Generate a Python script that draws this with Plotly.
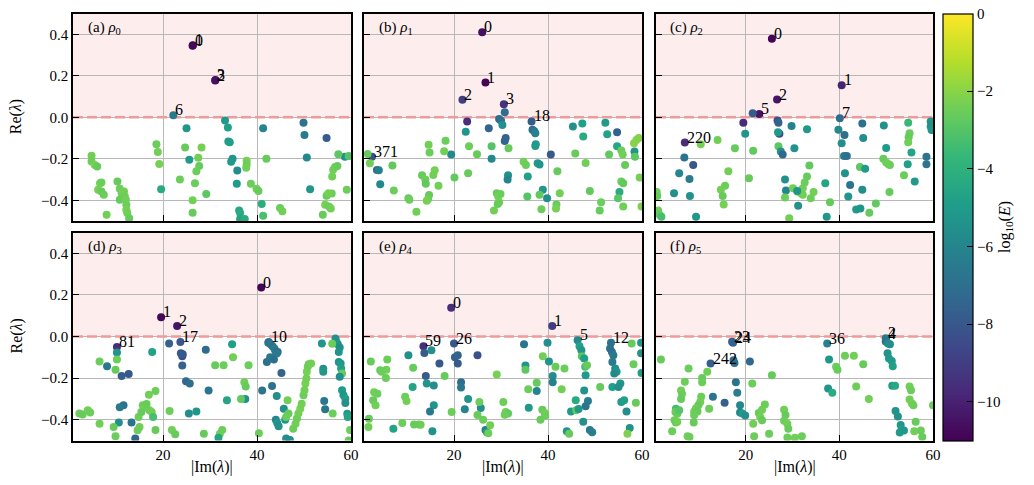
import plotly.graph_objects as go

# ---------------- data ----------------
# panel (a) rho_0 : first len(A_labels) points are the labelled ones
A_im = [26.3, 26.35, 31.1, 31.15, 22.2,
        33.2, 33.8, 25.0, 33.9, 34.2, 41.3, 49.9, 50.1, 54.8, 50.6, 51.3, 58.7, 59.5, 57.3,
        34.8, 34.5, 35.8, 35.7, 36.2, 36.4, 36.4, 37.4, 25.6, 41.0, 41.3, 19.6,
        4.8, 4.8, 5.5, 6.0, 6.6, 6.9, 6.2, 6.9, 7.4, 8.0, 10.3, 10.8, 11.2, 11.7, 11.9, 10.8,
        12.1, 12.2, 12.2, 12.4, 12.8, 18.6, 18.9, 19.2, 24.7, 23.6, 27.5, 27.7, 27.1, 28.2,
        26.8, 26.3, 26.3, 29.2, 38.7, 39.9, 40.3, 37.8, 37.8, 37.7, 42.0, 44.9, 45.4, 54.0,
        54.5, 55.3, 55.7, 54.8, 55.9, 55.2, 56.2, 56.6, 57.1, 56.0, 59.1]
A_re = [0.345, 0.347, 0.177, 0.179, 0.010,
        -0.016, -0.050, -0.053, -0.117, -0.120, -0.053, -0.026, -0.085, -0.100, -0.194, -0.347, -0.190, -0.187, -0.178,
        -0.200, -0.215, -0.257, -0.320, -0.450, -0.462, -0.490, -0.490, -0.205, -0.418, -0.475, -0.347,
        -0.186, -0.213, -0.230, -0.237, -0.318, -0.315, -0.350, -0.358, -0.373, -0.470, -0.310, -0.345, -0.366, -0.358, -0.383, -0.398,
        -0.398, -0.422, -0.446, -0.462, -0.487, -0.130, -0.167, -0.225, -0.146, -0.300, -0.195, -0.235, -0.260, -0.146,
        -0.318, -0.400, -0.460, -0.370, -0.320, -0.345, -0.355, -0.210, -0.228, -0.243, -0.200, -0.437, -0.453, -0.470,
        -0.422, -0.430, -0.440, -0.378, -0.368, -0.366, -0.253, -0.240, -0.235, -0.285, -0.350]
A_logE = [-10.9, -10.8, -10.6, -10.5, -6.5,
          -5.0, -4.8, -5.2, -5.0, -4.9, -6.0, -6.8, -6.5, -7.8, -5.8, -5.2, -5.5, -3.0, -2.8,
          -5.3, -5.0, -5.6, -5.0, -4.5, -4.3, -4.6, -4.2, -5.0, -4.2, -3.2, -4.3,
          -2.4, -2.5, -2.3, -2.6, -2.4, -2.5, -2.3, -2.6, -2.5, -2.4, -2.6, -2.5, -2.3, -2.4, -2.5, -2.6,
          -2.4, -2.5, -2.3, -2.4, -2.6, -2.5, -2.4, -2.3, -2.6, -2.5, -2.4, -2.6, -2.5, -2.3,
          -2.5, -2.4, -2.6, -2.8, -2.5, -2.4, -2.6, -2.3, -2.5, -2.4, -2.6, -2.5, -2.4, -2.6,
          -2.3, -2.5, -2.4, -2.6, -2.5, -2.3, -2.4, -2.5, -2.6, -2.4, -2.5]
A_labels = ["0", "1", "2", "3", "6"]

# panel (b) rho_1
B_im = [26.0, 26.7, 21.8, 30.6, 36.5, 2.55,
        30.8, 22.8, 22.5, 27.4, 29.6, 30.0, 30.3, 31.0, 30.8, 36.7, 37.1, 37.3, 37.4, 37.3,
        28.0, 31.6, 28.0, 40.6, 37.8, 38.2, 31.5, 31.4, 35.7, 38.9, 39.8, 45.3, 47.3, 47.5,
        52.2, 52.6, 54.7, 54.7, 45.8, 48.0, 53.0, 55.6, 55.9, 56.4, 58.3, 58.8, 59.3, 58.4,
        58.5, 59.5, 55.6, 56.0, 55.2, 54.9, 56.0, 59.9, 51.3, 51.0, 48.9, 42.0, 42.5, 41.8,
        41.7, 38.6, 38.2, 35.6, 34.8, 35.3, 29.1, 29.4, 29.9, 29.6, 29.3, 28.5, 24.9, 23.2,
        20.1, 23.0, 19.4, 17.9, 18.2, 14.6, 14.8, 15.9, 15.6, 13.2, 13.9, 14.0, 16.7, 14.7,
        14.5, 14.2, 12.0, 10.3, 10.5, 7.2, 6.9, 4.3, 3.6, 4.0, 2.1, 1.6]
B_re = [0.410, 0.167, 0.084, 0.063, -0.020, -0.190,
        0.024, -0.020, -0.070, -0.053, -0.008, -0.016, -0.037, -0.100, -0.115, -0.060, -0.068, -0.077, -0.130, -0.138,
        -0.140, -0.150, -0.200, -0.180, -0.222, -0.228, -0.280, -0.300, -0.285, -0.350, -0.390, -0.045, -0.030, -0.093,
        -0.026, -0.082, -0.072, -0.140, -0.175, -0.220, -0.180, -0.160, -0.180, -0.230, -0.125, -0.110, -0.100, -0.165,
        -0.190, -0.290, -0.310, -0.318, -0.360, -0.390, -0.430, -0.430, -0.410, -0.450, -0.355, -0.260, -0.366, -0.420,
        -0.440, -0.443, -0.374, -0.382, -0.215, -0.230, -0.366, -0.382, -0.370, -0.410, -0.418, -0.450, -0.178, -0.140,
        -0.290, -0.270, -0.180, -0.164, -0.113, -0.132, -0.170, -0.256, -0.278, -0.280, -0.300, -0.320, -0.330, -0.375,
        -0.394, -0.403, -0.455, -0.390, -0.397, -0.353, -0.233, -0.323, -0.254, -0.256, -0.222, -0.177]
B_logE = [-10.6, -10.9, -9.0, -9.4, -7.8, -8.3,
          -7.0, -9.6, -5.3, -7.4, -7.2, -6.9, -5.5, -7.6, -7.4, -7.2, -6.6, -6.2, -5.2, -5.0,
          -3.0, -2.6, -5.8, -7.9, -5.0, -5.3, -5.4, -6.0, -4.8, -5.2, -5.6, -5.5, -4.8, -4.3,
          -5.0, -4.7, -7.6, -4.5, -2.6, -2.4, -2.7, -2.5, -2.4, -2.6, -2.0, -2.0, -2.1, -5.2,
          -2.8, -2.3, -2.5, -2.7, -4.2, -2.9, -2.4, -2.2, -2.5, -2.6, -2.7, -2.6, -2.4, -2.6,
          -2.3, -2.5, -2.7, -3.0, -2.4, -2.5, -2.6, -2.3, -2.5, -2.4, -2.6, -2.4, -2.6, -2.5,
          -2.7, -2.6, -5.8, -2.4, -2.5, -2.4, -2.5, -2.3, -2.4, -2.6, -2.5, -2.7, -2.4, -2.6,
          -2.5, -2.3, -2.4, -2.6, -2.5, -2.5, -2.7, -5.8, -7.0, -6.2, -2.4, -2.6]
B_labels = ["0", "1", "2", "3", "18", "371"]

# panel (c) rho_2
C_im = [25.6, 40.5, 26.7, 22.9, 40.1, 7.0,
        21.5, 19.5, 26.8, 27.0, 27.2, 19.9, 26.9, 29.8, 33.1, 27.0, 27.5, 27.9, 30.4, 21.6,
        17.7, 14.0, 10.4, 6.9, 8.8, 5.8, 8.0, 4.7, 8.1, 9.4, 1.0, 1.1, 1.3, 1.6, 2.0, 16.3,
        15.6, 14.7, 15.1, 15.3, 20.7, 28.4, 28.6, 28.4, 30.1, 31.1, 31.8, 32.2, 32.6, 33.1,
        32.2, 33.6, 31.0, 33.9, 34.5, 37.0, 38.0, 31.2, 29.3, 37.3, 39.8, 41.1, 40.5, 41.0,
        41.6, 41.2, 42.3, 41.9, 43.6, 44.5, 46.4, 47.8, 44.9, 45.1, 44.4, 45.5, 44.9, 49.5,
        50.0, 49.4, 50.0, 50.5, 50.8, 50.7, 53.8, 54.7, 55.0, 54.8, 54.7, 55.4, 54.6, 56.1,
        58.6, 58.6, 59.5, 59.5, 59.7]
C_re = [0.378, 0.154, 0.085, 0.016, -0.005, -0.122,
        0.019, -0.027, -0.016, -0.026, -0.080, -0.080, -0.072, -0.042, -0.058, -0.140, -0.165, -0.180, -0.150, -0.162,
        -0.150, -0.110, -0.130, -0.194, -0.230, -0.270, -0.297, -0.366, -0.380, -0.480, -0.360, -0.380, -0.450, -0.470, -0.480, -0.260,
        -0.330, -0.350, -0.380, -0.420, -0.294, -0.300, -0.353, -0.387, -0.342, -0.358, -0.366, -0.342, -0.315, -0.286,
        -0.374, -0.233, -0.355, -0.390, -0.360, -0.318, -0.410, -0.427, -0.487, -0.479, -0.060, -0.085, -0.125, -0.187,
        -0.187, -0.270, -0.326, -0.382, -0.445, -0.440, -0.460, -0.416, -0.030, -0.100, -0.240, -0.248, -0.350, -0.040,
        -0.148, -0.200, -0.218, -0.226, -0.230, -0.360, -0.280, -0.026, -0.077, -0.096, -0.120, -0.170, -0.227, -0.310,
        -0.190, -0.226, -0.020, -0.045, -0.062]
C_logE = [-10.9, -9.9, -10.4, -10.3, -7.0, -9.6,
          -7.8, -9.6, -8.2, -7.6, -8.4, -5.3, -5.0, -6.2, -5.1, -2.8, -5.6, -7.2, -5.4, -2.7,
          -2.6, -2.4, -2.3, -6.8, -8.0, -5.9, -6.4, -5.5, -5.4, -5.2, -2.5, -2.6, -2.5, -2.7, -3.3, -2.4,
          -2.5, -2.4, -2.6, -2.3, -2.6, -5.5, -6.0, -2.5, -2.4, -2.3, -2.5, -2.4, -2.5, -2.6,
          -2.4, -2.7, -5.3, -2.5, -2.4, -4.6, -2.6, -5.4, -2.4, -5.2, -5.8, -7.0, -5.6, -6.4,
          -7.0, -5.4, -6.8, -5.3, -5.0, -5.3, -2.6, -2.7, -6.9, -5.6, -2.8, -5.0, -5.6, -5.4,
          -5.0, -2.6, -2.5, -2.4, -2.5, -2.6, -2.5, -3.6, -2.5, -2.6, -2.4, -4.6, -4.8, -5.0,
          -6.8, -6.7, -5.3, -5.5, -5.2]
C_labels = ["0", "1", "2", "5", "7", "220"]

# panel (d) rho_3
D_im = [40.9, 19.6, 23.0, 23.7, 42.5, 10.2,
        21.3, 23.8, 24.1, 24.2, 24.1, 24.9, 25.7, 29.1, 29.7, 34.7, 31.1, 32.9, 34.9, 38.2,
        37.3, 37.6, 37.5, 36.6, 33.6, 25.5, 27.1, 21.4, 21.9, 22.6, 32.1, 32.6, 28.7, 40.4,
        31.8, 17.7, 10.2, 10.2, 9.9, 11.2, 12.7, 8.1, 6.5, 11.6, 10.8, 13.3, 14.1, 10.6,
        9.5, 9.9, 6.5, 2.2, 2.9, 4.0, 4.5, 17.0, 18.4, 15.7, 16.2, 16.5, 17.1, 17.6,
        17.9, 14.8, 15.4, 15.0, 14.6, 18.4, 42.1, 42.4, 42.9, 43.3, 43.7, 43.9, 44.4, 44.2,
        42.8, 43.3, 43.6, 45.2, 43.2, 41.1, 44.2, 44.0, 44.3, 44.6, 45.7, 46.0, 46.5, 46.7,
        46.2, 46.2, 47.0, 48.2, 48.5, 48.8, 49.2, 49.5, 49.9, 50.1, 50.3, 50.5, 50.6, 50.8,
        51.0, 51.5, 47.7, 53.8, 54.1, 54.1, 54.3, 54.5, 56.7, 56.9, 57.2, 57.6, 57.4, 57.4,
        57.8, 57.9, 58.1, 57.6, 58.1, 58.4, 58.8, 58.8, 59.2, 59.3, 59.5, 59.8, 56.1, 56.0]
D_re = [0.235, 0.093, 0.050, -0.026, -0.026, -0.050,
        -0.034, -0.080, -0.095, -0.085, -0.140, -0.215, -0.226, -0.064, -0.260, -0.037, -0.138, -0.138, -0.100, -0.138,
        -0.220, -0.240, -0.300, -0.300, -0.307, -0.370, -0.360, -0.358, -0.450, -0.470, -0.467, -0.450, -0.467, -0.465,
        -0.487, -0.074, -0.077, -0.110, -0.160, -0.190, -0.180, -0.143, -0.120, -0.330, -0.340, -0.414, -0.490, -0.414,
        -0.435, -0.480, -0.420, -0.370, -0.375, -0.355, -0.365, -0.280, -0.262, -0.330, -0.340, -0.325, -0.354, -0.363,
        -0.387, -0.387, -0.363, -0.435, -0.451, -0.450, -0.122, -0.030, -0.037, -0.047, -0.058, -0.069, -0.074, -0.082,
        -0.100, -0.106, -0.110, -0.175, -0.238, -0.260, -0.286, -0.400, -0.416, -0.432, -0.347, -0.400, -0.307, -0.370,
        -0.387, -0.490, -0.498, -0.420, -0.394, -0.370, -0.347, -0.323, -0.283, -0.258, -0.226, -0.202, -0.170, -0.146,
        -0.133, -0.130, -0.443, -0.034, -0.155, -0.170, -0.310, -0.350, -0.010, -0.026, -0.037, -0.053, -0.074, -0.122,
        -0.130, -0.154, -0.178, -0.194, -0.258, -0.283, -0.299, -0.320, -0.371, -0.387, -0.500, -0.450, -0.370, -0.035]
D_logE = [-10.9, -10.8, -10.4, -8.0, -7.0, -9.5,
          -7.6, -7.8, -8.3, -7.9, -7.6, -7.3, -7.0, -7.2, -6.8, -4.8, -2.6, -2.5, -2.4, -2.5,
          -2.4, -2.6, -5.5, -2.7, -4.6, -5.6, -5.2, -2.5, -2.4, -2.6, -2.4, -2.5, -2.6, -2.5,
          -4.6, -4.7, -5.4, -2.5, -2.6, -7.8, -8.0, -6.6, -2.5, -6.8, -6.5, -6.8, -7.5, -5.6,
          -2.6, -2.5, -2.4, -2.5, -2.6, -2.4, -2.5, -2.4, -2.5, -2.5, -2.4, -2.6, -2.5, -2.4,
          -3.3, -2.5, -2.6, -2.4, -2.5, -2.6, -7.0, -6.8, -6.6, -6.9, -6.4, -6.6, -7.2, -6.5,
          -6.7, -6.5, -7.0, -7.5, -6.8, -6.8, -5.6, -5.8, -5.3, -5.5, -5.5, -5.2, -2.4, -2.6,
          -2.5, -5.4, -5.6, -2.4, -2.5, -2.4, -2.3, -2.4, -2.5, -2.4, -2.3, -2.4, -2.3, -2.4,
          -2.5, -2.4, -2.5, -5.3, -5.5, -5.2, -6.6, -6.8, -5.4, -5.5, -5.2, -5.6, -5.3, -5.4,
          -5.0, -4.8, -2.6, -5.6, -5.0, -5.2, -4.8, -5.5, -5.0, -4.6, -2.6, -2.5, -2.5, -2.5]
D_labels = ["0", "1", "2", "17", "10", "81"]

# panel (e) rho_4
E_im = [19.4, 40.9, 20.0, 13.5, 46.3, 53.4,
        13.7, 15.2, 16.9, 14.0, 14.2, 15.7, 20.2, 20.8, 20.8, 25.0, 21.5, 21.5, 23.0, 22.3,
        25.7, 25.0, 26.2, 25.4, 26.7, 27.0, 27.7, 27.3, 15.7, 14.9, 15.4, 12.5, 12.9, 11.5,
        9.0, 7.1, 1.8, 1.9, 11.2, 9.6, 9.9, 11.3, 10.3, 5.8, 5.6, 5.5, 4.3, 4.6,
        2.3, 3.0, 3.7, 2.8, 3.3, 18.0, 19.5, 29.1, 30.5, 31.0, 31.5, 30.8, 34.9, 35.2,
        35.2, 37.6, 37.6, 35.8, 35.9, 38.9, 39.9, 40.2, 41.0, 41.0, 41.6, 43.5, 42.9, 38.8,
        39.3, 39.4, 38.4, 44.0, 44.5, 44.9, 46.0, 45.9, 47.7, 48.5, 48.0, 46.5, 47.5, 48.9,
        49.4, 46.7, 47.1, 47.2, 47.7, 47.9, 48.3, 48.0, 51.1, 53.2, 53.6, 53.9, 53.7, 54.3,
        54.6, 54.1, 53.7, 55.4, 55.0, 55.6, 56.2, 56.7, 57.4, 56.9, 57.8, 58.2, 58.7, 59.8,
        59.8, 59.9]
E_re = [0.138, 0.050, -0.034, -0.047, -0.018, -0.030,
        -0.079, -0.066, -0.130, -0.190, -0.226, -0.235, -0.100, -0.090, -0.130, -0.090, -0.220, -0.245, -0.300, -0.350,
        -0.344, -0.377, -0.400, -0.315, -0.450, -0.460, -0.427, -0.465, -0.330, -0.360, -0.455, -0.423, -0.424, -0.423,
        -0.416, -0.443, -0.435, -0.395, -0.243, -0.290, -0.310, -0.150, -0.090, -0.110, -0.160, -0.200, -0.162, -0.170,
        -0.120, -0.268, -0.275, -0.307, -0.330, -0.190, -0.363, -0.183, -0.315, -0.363, -0.370, -0.376, -0.037, -0.140,
        -0.160, -0.222, -0.262, -0.254, -0.342, -0.095, -0.030, -0.120, -0.190, -0.220, -0.146, -0.154, -0.254, -0.352,
        -0.368, -0.380, -0.400, -0.455, -0.467, -0.360, -0.355, -0.307, -0.260, -0.310, -0.335, -0.348, -0.410, -0.450,
        -0.460, -0.047, -0.066, -0.095, -0.106, -0.146, -0.138, -0.186, -0.243, -0.058, -0.074, -0.090, -0.122, -0.154,
        -0.170, -0.178, -0.243, -0.226, -0.243, -0.315, -0.307, -0.360, -0.440, -0.467, -0.034, -0.133, -0.318, -0.030,
        -0.080, -0.175]
E_logE = [-9.6, -9.0, -8.0, -9.5, -5.8, -6.8,
          -7.8, -5.5, -8.0, -7.8, -5.3, -5.6, -7.6, -7.5, -7.8, -8.2, -7.0, -6.6, -5.3, -6.0,
          -5.5, -2.6, -2.5, -2.5, -6.4, -5.0, -2.4, -2.5, -5.3, -6.6, -5.4, -2.4, -2.5, -2.6,
          -2.5, -4.6, -2.4, -2.6, -4.6, -2.5, -2.4, -2.6, -5.5, -2.5, -2.4, -2.5, -2.6, -2.5,
          -2.6, -2.4, -2.5, -2.6, -2.4, -2.6, -2.5, -2.3, -2.5, -2.4, -2.7, -2.5, -6.8, -5.3,
          -2.8, -2.6, -6.0, -2.5, -5.1, -2.4, -5.6, -5.3, -5.6, -6.2, -2.6, -2.5, -2.4, -2.6,
          -2.4, -2.5, -2.6, -5.4, -2.6, -5.0, -2.7, -4.3, -5.4, -6.4, -6.8, -5.2, -5.5, -6.5,
          -6.3, -4.8, -5.3, -3.0, -4.8, -3.3, -2.6, -5.0, -2.6, -6.9, -7.0, -6.6, -6.5, -5.6,
          -5.2, -5.8, -4.8, -5.2, -5.6, -5.0, -4.8, -5.6, -5.4, -2.2, -2.6, -2.5, -2.6, -5.2,
          -5.4, -5.0]
E_labels = ["0", "1", "26", "59", "5", "12"]

# panel (f) rho_5
F_im = [49.9, 50.0, 17.1, 17.3, 12.5, 37.4,
        49.9, 50.4, 50.8, 50.3, 50.6, 51.2, 51.4, 17.4, 17.6, 20.9, 17.9, 18.2, 13.0, 15.5,
        18.8, 18.8, 19.3, 19.9, 21.4, 25.6, 37.8, 39.3, 39.6, 37.6, 38.5, 41.2, 43.1, 45.1,
        43.6, 46.3, 51.3, 51.9, 52.0, 52.5, 53.1, 53.3, 52.9, 53.8, 55.0, 55.3, 55.0, 55.5,
        55.8, 56.3, 56.0, 57.4, 57.7, 60.0, 1.9, 7.8, 11.8, 7.0, 10.7, 10.7, 6.2, 6.4,
        6.2, 10.5, 10.3, 9.9, 9.4, 9.0, 9.7, 5.1, 5.0, 5.4, 5.8, 4.8, 5.1, 5.4,
        4.3, 9.0, 8.9, 7.6, 8.0, 12.2, 21.6, 21.8, 22.8, 23.5, 24.1, 23.1, 23.5, 25.0,
        28.2, 28.5, 28.2, 28.9, 29.1, 28.9, 30.5, 32.0]
F_re = [-0.008, -0.012, -0.025, -0.030, -0.130, -0.034,
        -0.024, -0.034, -0.037, -0.080, -0.106, -0.118, -0.143, -0.114, -0.127, -0.120, -0.220, -0.270, -0.290, -0.318,
        -0.330, -0.365, -0.370, -0.380, -0.226, -0.186, -0.110, -0.146, -0.160, -0.250, -0.270, -0.092, -0.092, -0.133,
        -0.240, -0.300, -0.237, -0.237, -0.358, -0.385, -0.425, -0.448, -0.462, -0.452, -0.240, -0.258, -0.303, -0.322,
        -0.330, -0.410, -0.455, -0.452, -0.483, -0.330, -0.110, -0.154, -0.170, -0.218, -0.200, -0.220, -0.260, -0.275,
        -0.300, -0.290, -0.315, -0.330, -0.345, -0.360, -0.360, -0.347, -0.363, -0.371, -0.355, -0.403, -0.414, -0.410,
        -0.456, -0.379, -0.414, -0.480, -0.483, -0.347, -0.420, -0.480, -0.368, -0.352, -0.327, -0.387, -0.403, -0.467,
        -0.352, -0.378, -0.405, -0.420, -0.443, -0.485, -0.487, -0.480]
F_logE = [-6.6, -6.4, -7.8, -7.6, -7.6, -6.2,
          -6.8, -5.8, -5.6, -5.4, -5.2, -5.0, -4.8, -7.2, -7.0, -7.4, -6.8, -6.3, -6.8, -7.6,
          -5.8, -6.0, -5.0, -5.5, -2.5, -2.6, -5.2, -2.5, -2.6, -5.3, -4.2, -2.5, -2.4, -2.6,
          -2.5, -2.4, -5.0, -4.4, -5.3, -5.4, -5.2, -4.8, -5.0, -5.1, -2.4, -2.5, -2.4, -2.3,
          -2.5, -2.6, -2.4, -2.5, -2.6, -2.5, -2.6, -2.5, -2.4, -2.5, -2.6, -2.5, -2.4, -2.5,
          -2.6, -2.5, -2.4, -2.6, -2.5, -2.4, -2.6, -3.4, -2.5, -2.6, -3.0, -2.5, -2.6, -2.4,
          -2.5, -2.5, -2.6, -2.4, -2.5, -2.5, -2.4, -2.5, -2.6, -2.4, -2.5, -2.4, -2.6, -2.5,
          -2.4, -2.6, -2.5, -2.4, -2.6, -2.5, -2.4, -2.5]
F_labels = ["2", "4", "23", "24", "242", "36"]

PANEL_TAGS = ["(a)", "(b)", "(c)", "(d)", "(e)", "(f)"]
PANEL_RHO = ["0", "1", "2", "3", "4", "5"]
X_RANGE = [0.85, 60]
Y_RANGE = [-0.5, 0.5]
STABILITY_EDGE = [0.0, 0.0]   # Re(lambda) = 0 reference line
X_TICKS = [20, 40, 60]
Y_TICKS = [-0.4, -0.2, 0.0, 0.2, 0.4]
CB_TICKS = [-10, -8, -6, -4, -2, 0]

# ---------------- figure ----------------
W, H = 1034, 485
FONT = "Liberation Serif"
COLS_PX = [(73, 351), (364, 642), (656, 933)]
ROWS_PX = [(13.5, 221), (232.5, 440.5)]

panels = [
    (A_im, A_re, A_logE, A_labels),
    (B_im, B_re, B_logE, B_labels),
    (C_im, C_re, C_logE, C_labels),
    (D_im, D_re, D_logE, D_labels),
    (E_im, E_re, E_logE, E_labels),
    (F_im, F_re, F_logE, F_labels),
]

fig = go.Figure()
layout = {}
shapes = []
annotations = []

for i, (im, re_, le, labels) in enumerate(panels):
    r, c = divmod(i, 3)
    n = i + 1
    sfx = "" if n == 1 else str(n)
    xa, ya = "x" + sfx, "y" + sfx
    x0p, x1p = COLS_PX[c]
    y0p, y1p = ROWS_PX[r]
    # dashed Re=0 line (under the points)
    fig.add_trace(go.Scatter(
        x=X_RANGE, y=STABILITY_EDGE, mode="lines", xaxis=xa, yaxis=ya,
        line=dict(color="#f09a9a", width=2.5, dash="10px,4px"),
        showlegend=False, hoverinfo="skip"))
    fig.add_trace(go.Scatter(
        x=im, y=re_, mode="markers", xaxis=xa, yaxis=ya,
        marker=dict(size=8, color=le, coloraxis="coloraxis", line=dict(width=0)),
        showlegend=False, hoverinfo="skip", cliponaxis=True))
    common = dict(showline=True, mirror=True, linecolor="black", linewidth=1.5,
                  ticks="inside", ticklen=6, tickwidth=1.2, tickcolor="black",
                  showgrid=True, gridcolor="#b8b8b8", gridwidth=1.2, zeroline=False,
                  tickfont=dict(family=FONT, size=15, color="black"), automargin=False)
    layout["xaxis" + sfx] = dict(domain=[x0p / W, x1p / W], range=X_RANGE, anchor=ya,
                                 tickvals=X_TICKS, showticklabels=(r == 1), **common)
    layout["yaxis" + sfx] = dict(domain=[1 - y1p / H, 1 - y0p / H], range=Y_RANGE, anchor=xa,
                                 tickvals=Y_TICKS, tickformat=".1f", showticklabels=(c == 0), **common)
    # unstable half-plane
    shapes.append(dict(type="rect", xref=xa + " domain", yref=ya, x0=0, x1=1, y0=0, y1=Y_RANGE[1],
                       fillcolor="#fdeded", line=dict(width=0), layer="below"))
    # point labels
    for k, t in enumerate(labels):
        annotations.append(dict(x=im[k], y=re_[k], xref=xa, yref=ya, text=t, showarrow=False,
                                xanchor="left", yanchor="bottom", xshift=0, yshift=-5,
                                font=dict(family=FONT, size=16, color="black")))
    # panel tag
    annotations.append(dict(x=0.045, y=0.985, xref=xa + " domain", yref=ya + " domain",
                            text=f"{PANEL_TAGS[i]} <i>ρ</i><sub>{PANEL_RHO[i]}</sub>",
                            showarrow=False, xanchor="left", yanchor="top",
                            font=dict(family=FONT, size=15, color="black")))

# axis titles
for r in range(2):
    y0p, y1p = ROWS_PX[r]
    annotations.append(dict(x=16 / W, y=1 - (y0p + y1p) / 2 / H, xref="paper", yref="paper",
                            text="Re(<i>λ</i>)", textangle=-90, showarrow=False,
                            xanchor="center", yanchor="middle",
                            font=dict(family=FONT, size=16, color="black")))
for c in range(3):
    x0p, x1p = COLS_PX[c]
    annotations.append(dict(x=(x0p + x1p) / 2 / W, y=1 - 467 / H, xref="paper", yref="paper",
                            text="|Im(<i>λ</i>)|", showarrow=False,
                            xanchor="center", yanchor="middle",
                            font=dict(family=FONT, size=16, color="black")))

layout.update(
    width=W, height=H,
    margin=dict(l=0, r=0, t=0, b=0),
    paper_bgcolor="white", plot_bgcolor="white",
    font=dict(family=FONT, size=15, color="black"),
    coloraxis=dict(
        colorscale="Viridis", cmin=-11, cmax=0,
        colorbar=dict(x=943 / W, xanchor="left", xpad=0, ypad=0,
                      y=1 - (13.5 + 440.5) / 2 / H, yanchor="middle",
                      len=(440.5 - 13.5) / H, lenmode="fraction", thickness=30,
                      outlinecolor="black", outlinewidth=1.2,
                      tickvals=CB_TICKS, ticks="inside", ticklen=6, tickwidth=1.2, tickcolor="black",
                      tickfont=dict(family=FONT, size=15, color="black"),
                      title=dict(text="log<sub>10</sub>(<i>E</i>)", side="right",
                                 font=dict(family=FONT, size=16, color="black")))),
    shapes=shapes, annotations=annotations,
)
fig.update_layout(**layout)
fig.write_html("out.html")
